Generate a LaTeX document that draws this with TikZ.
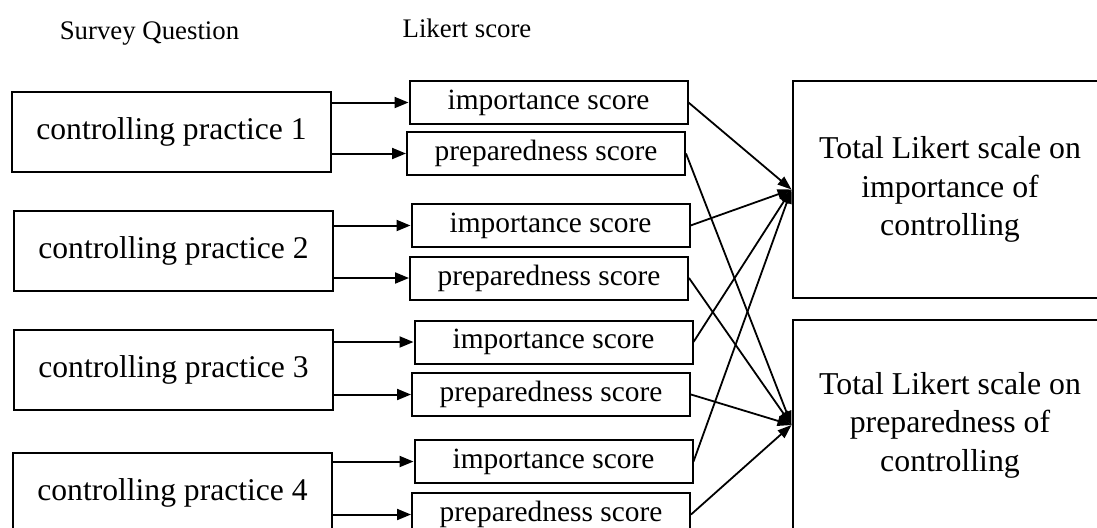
\documentclass[tikz,border=0pt]{standalone}
\usepackage{fontspec}
\setmainfont{Liberation Serif}
\usetikzlibrary{arrows.meta}

\begin{document}
\begin{tikzpicture}[
  x=0.5pt, y=-0.5pt,
  heading/.style={anchor=base, inner sep=0pt, font=\fontsize{13.4}{16}\selectfont},
  practice/.style={draw, line width=1pt, minimum width=159.5pt, minimum height=40pt, inner sep=0pt, font=\fontsize{15.8}{19}\selectfont},
  score/.style={draw, line width=1pt, minimum width=139pt, minimum height=21.5pt, inner sep=0pt, font=\fontsize{14.7}{17}\selectfont},
  total/.style={draw, line width=1pt, minimum width=157.5pt, minimum height=108.5pt, inner sep=0pt, align=center, font=\fontsize{15.9}{19.25}\selectfont},
  feed/.style={-{Triangle[length=7pt,width=5.5pt]}, line width=1pt},
  merge/.style={-{Triangle[length=7pt,width=5pt]}, line width=0.9pt}
  ]

\clip (0,0) rectangle (1097,527);

\node[heading] (survey) at (149.5,39) {Survey Question};
\node[heading] (likert) at (467,37) {Likert score};

\node[practice] (cp1) at (171.5,132) {controlling practice 1};
\node[practice] (cp2) at (173.5,251) {controlling practice 2};
\node[practice] (cp3) at (173.5,370) {controlling practice 3};
\node[practice] (cp4) at (172.5,493) {controlling practice 4};

\node[score] (imp1) at (548.5,102.5) {importance score};
\node[score] (prep1) at (546,153.5) {preparedness score};
\node[score] (imp2) at (550.5,225.5) {importance score};
\node[score] (prep2) at (549,278) {preparedness score};
\node[score] (imp3) at (553.5,342) {importance score};
\node[score] (prep3) at (551,394.5) {preparedness score};
\node[score] (imp4) at (553.5,461.5) {importance score};
\node[score] (prep4) at (551,514.5) {preparedness score};

\node[total] (timp) at (950,189.5) {Total Likert scale on\\importance of\\controlling};
\node[total, minimum height=105pt] (tprep) at (950,425) {Total Likert scale on\\preparedness of\\controlling};

\draw[feed] (cp1.east |- imp1.west) -- (imp1.west);
\draw[feed] (cp1.east |- prep1.west) -- (prep1.west);
\draw[feed] (cp2.east |- imp2.west) -- (imp2.west);
\draw[feed] (cp2.east |- prep2.west) -- (prep2.west);
\draw[feed] (cp3.east |- imp3.west) -- (imp3.west);
\draw[feed] (cp3.east |- prep3.west) -- (prep3.west);
\draw[feed] (cp4.east |- imp4.west) -- (imp4.west);
\draw[feed] (cp4.east |- prep4.west) -- (prep4.west);

\draw[merge] (imp1.east) -- (timp.west);
\draw[merge] (imp2.east) -- (timp.west);
\draw[merge] (imp3.east) -- (timp.west);
\draw[merge] (imp4.east) -- (timp.west);
\draw[merge] (prep1.east) -- (tprep.west);
\draw[merge] (prep2.east) -- (tprep.west);
\draw[merge] (prep3.east) -- (tprep.west);
\draw[merge] (prep4.east) -- (tprep.west);

\end{tikzpicture}
\end{document}
